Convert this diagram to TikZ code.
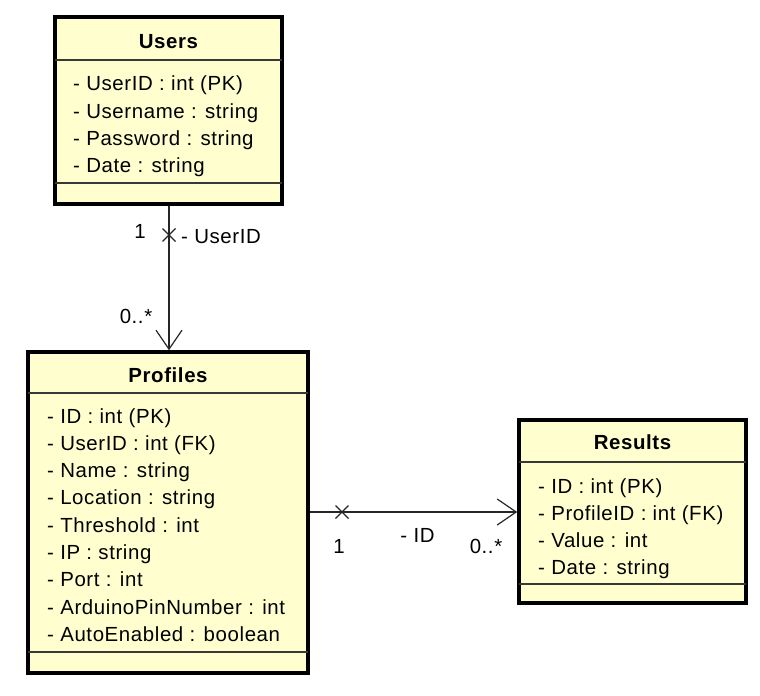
\documentclass[tikz,border=0pt]{standalone}
\usepackage{fontspec}
\setmainfont{Liberation Sans}[LetterSpace=3]
\usetikzlibrary{arrows.meta,calc}
\definecolor{umlfill}{HTML}{FEFECE}
\definecolor{sepcol}{HTML}{383838}
\begin{document}
\begin{tikzpicture}[x=1bp,y=-1bp,
  classbox/.style={draw=black,line width=3.5bp,fill=umlfill,inner sep=0pt},
  sepline/.style={draw=sepcol,line width=1.3bp},
  title/.style={font=\fontsize{20.5}{23}\selectfont\bfseries,anchor=base,inner sep=0pt},
  attr/.style={font=\fontsize{20.5}{23}\selectfont,anchor=base west,inner sep=0pt},
  lbl/.style={font=\fontsize{20.5}{23}\selectfont,anchor=base,inner sep=0pt},
  conn/.style={draw=black!85,line width=1.2bp},
  openarrow/.style={-{Straight Barb[length=19bp,width=26bp,line width=1.2bp]}},
  xmark/.style={draw=black!85,line width=1.3bp}
]
\useasboundingbox (0,0) rectangle (760,696);

% ---------------- Users ----------------
\node[classbox,minimum width=227bp,minimum height=187bp] (users) at (168.5,110.5) {};
\draw[sepline] (55,60) -- (282,60);
\draw[sepline] (55,183) -- (282,183);
\node[title] (usersT) at (168.5,48.5) {Users};
\node[attr] (u1) at (73,91) {- UserID : int (PK)};
\node[attr] (u2) at (73,118.3) {- Username : string};
\node[attr] (u3) at (73,145.6) {- Password : string};
\node[attr] (u4) at (73,172.9) {- Date : string};

% ---------------- Profiles ----------------
\node[classbox,minimum width=280bp,minimum height=321bp] (profiles) at (168,512.5) {};
\draw[sepline] (28,393) -- (308,393);
\draw[sepline] (28,652) -- (308,652);
\node[title] (profilesT) at (168,382.5) {Profiles};
\node[attr] (p1) at (47,423) {- ID : int (PK)};
\node[attr] (p2) at (47,450.3) {- UserID : int (FK)};
\node[attr] (p3) at (47,477.6) {- Name : string};
\node[attr] (p4) at (47,504.9) {- Location : string};
\node[attr] (p5) at (47,532.2) {- Threshold : int};
\node[attr] (p6) at (47,559.5) {- IP : string};
\node[attr] (p7) at (47,586.8) {- Port : int};
\node[attr] (p8) at (47,614.1) {- ArduinoPinNumber : int};
\node[attr] (p9) at (47,641.4) {- AutoEnabled : boolean};

% ---------------- Results ----------------
\node[classbox,minimum width=227bp,minimum height=183bp] (results) at (632.5,511.5) {};
\draw[sepline] (519,462) -- (746,462);
\draw[sepline] (519,584) -- (746,584);
\node[title] (resultsT) at (632.5,449) {Results};
\node[attr] (r1) at (538,493) {- ID : int (PK)};
\node[attr] (r2) at (538,520.3) {- ProfileID : int (FK)};
\node[attr] (r3) at (538,547.6) {- Value : int};
\node[attr] (r4) at (538,574.9) {- Date : string};

% ---------------- Users -> Profiles ----------------
\draw[conn,openarrow] (users.south -| 169,0) -- (profiles.north -| 169,0);
\coordinate (x1) at (169,235);
\draw[xmark] ($(x1)+(-6.5,-6.5)$) -- ($(x1)+(6.5,6.5)$);
\draw[xmark] ($(x1)+(-6.5,6.5)$) -- ($(x1)+(6.5,-6.5)$);
\node[lbl] (l1) at (140,238) {1};
\node[attr] (l2) at (181,243) {- UserID};
\node[lbl] (l3) at (136,323) {0..*};

% ---------------- Profiles -> Results ----------------
\draw[conn,openarrow] (profiles.east |- 0,512) -- (results.west |- 0,512);
\coordinate (x2) at (342,512);
\draw[xmark] ($(x2)+(-6.5,-6.5)$) -- ($(x2)+(6.5,6.5)$);
\draw[xmark] ($(x2)+(-6.5,6.5)$) -- ($(x2)+(6.5,-6.5)$);
\node[lbl] (l4) at (339,553) {1};
\node[lbl] (l5) at (417.5,542) {- ID};
\node[lbl] (l6) at (486,553) {0..*};
\end{tikzpicture}
\end{document}
